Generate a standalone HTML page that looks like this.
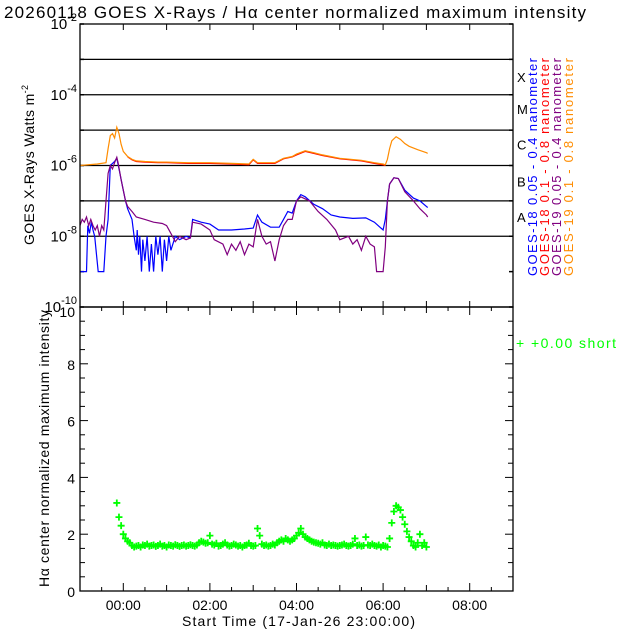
<!DOCTYPE html>
<html><head><meta charset="utf-8"><style>
html,body{margin:0;padding:0;background:#fff}
svg{display:block;font-family:"Liberation Sans",sans-serif}
</style></head><body>
<svg id="chart" width="640" height="640" viewBox="0 0 640 640">
<rect width="640" height="640" fill="#fff"/>
<text x="4" y="18" font-size="17" textLength="582" lengthAdjust="spacing" fill="#000">20260118 GOES X-Rays / Hα center normalized maximum intensity</text>
<g id="topPanel"></g>
<g id="botPanel"></g>
</svg>
<script>
// ---- data ----
const orangeT=[-1,-0.6,-0.4,-0.35,-0.3,-0.25,-0.2,-0.15,-0.1,-0.05,0,0.1,0.2,0.3,0.5,0.8,1.0,1.5,2.0,2.5,2.9,3.0,3.1,3.5,3.7,3.9,4.0,4.2,4.4,4.6,5.0,5.5,5.8,6.0,6.05,6.1,6.15,6.2,6.3,6.4,6.5,6.6,6.8,7.0,7.03];
const orangeV=[1.0e-6,1.1e-6,1.2e-6,3e-6,7e-6,8e-6,6e-6,1.2e-5,8e-6,4e-6,2.5e-6,1.8e-6,1.5e-6,1.35e-6,1.3e-6,1.25e-6,1.25e-6,1.2e-6,1.2e-6,1.15e-6,1.1e-6,1.5e-6,1.2e-6,1.2e-6,1.6e-6,1.8e-6,2.1e-6,2.6e-6,2.3e-6,2.0e-6,1.6e-6,1.4e-6,1.2e-6,1.1e-6,1.05e-6,1.5e-6,3e-6,5e-6,6.5e-6,5.5e-6,4.2e-6,3.5e-6,2.8e-6,2.3e-6,2.2e-6];
const redT=[0.1,0.2,0.3,0.5,0.8,1.0,1.5,2.0,2.5,2.9,3.0,3.1,3.5,3.7,3.9,4.0,4.2,4.4,4.6,5.0,5.5,5.8,6.0,6.05];
const redV=[1.75e-6,1.45e-6,1.3e-6,1.25e-6,1.2e-6,1.2e-6,1.15e-6,1.15e-6,1.1e-6,1.05e-6,1.45e-6,1.15e-6,1.15e-6,1.55e-6,1.75e-6,2.0e-6,2.5e-6,2.2e-6,1.9e-6,1.55e-6,1.35e-6,1.15e-6,1.05e-6,1.0e-6];
const blueT=[-1,-0.85,-0.82,-0.78,-0.74,-0.7,-0.66,-0.62,-0.58,-0.45,-0.4,-0.35,-0.3,-0.2,-0.15,-0.1,0,0.05,0.1,0.2,0.25,0.3,0.32,0.35,0.38,0.42,0.45,0.5,0.55,0.6,0.65,0.7,0.75,0.8,0.85,0.9,0.95,1.0,1.05,1.1,1.2,1.3,1.45,1.55,1.6,1.8,2.0,2.2,2.5,2.8,3.0,3.1,3.2,3.4,3.6,3.7,3.8,3.9,4.0,4.1,4.2,4.4,4.6,4.8,5.0,5.3,5.6,5.8,6.0,6.05,6.1,6.15,6.25,6.35,6.5,6.7,6.85,7.0,7.03];
const blueV=[1e-9,1e-9,2e-8,1.2e-8,2.5e-8,1.5e-8,1e-8,3e-9,1e-9,1e-9,1e-8,3e-8,1e-6,1.3e-6,1.6e-6,8e-7,2e-7,1e-7,6e-8,3e-8,1e-8,4e-9,1.5e-8,3e-9,1e-8,1e-9,8e-9,2e-9,1e-8,1e-9,6e-9,1e-9,1e-8,3e-9,1e-8,1e-9,8e-9,2e-9,1e-8,4e-9,1e-8,8e-9,1e-8,9e-9,3e-8,2.5e-8,2.2e-8,1.5e-8,1.5e-8,1.6e-8,1.7e-8,4e-8,2.5e-8,1.8e-8,1.8e-8,3e-8,5e-8,4.5e-8,1e-7,1.5e-7,1.3e-7,8e-8,6e-8,4e-8,3.5e-8,3.2e-8,3.3e-8,2.5e-8,1.5e-8,3e-8,1e-7,3e-7,4.5e-7,4.3e-7,2e-7,1.2e-7,1e-7,7e-8,6.5e-8];
const purpleT=[-1,-0.95,-0.9,-0.85,-0.8,-0.75,-0.7,-0.65,-0.6,-0.55,-0.5,-0.45,-0.4,-0.35,-0.3,-0.25,-0.2,-0.15,-0.12,-0.05,0,0.05,0.1,0.2,0.3,0.5,0.7,0.9,1.0,1.1,1.2,1.3,1.45,1.55,1.6,1.8,2.0,2.1,2.3,2.4,2.5,2.6,2.7,2.8,2.9,3.0,3.1,3.2,3.3,3.4,3.5,3.6,3.7,3.8,3.9,4.0,4.1,4.3,4.5,4.7,4.9,5.0,5.2,5.3,5.4,5.5,5.6,5.7,5.8,5.85,6.0,6.05,6.1,6.15,6.25,6.35,6.5,6.7,6.85,7.0,7.03];
const purpleV=[2e-8,3e-8,2.5e-8,3.5e-8,2e-8,3e-8,2e-8,1.5e-8,2e-8,1e-8,2e-8,1.5e-8,1e-7,6e-7,1e-6,8e-7,1.2e-6,1.7e-6,1.2e-6,4e-7,2e-7,1e-7,7e-8,5e-8,3.5e-8,3e-8,2.5e-8,2.3e-8,2e-8,1.2e-8,7e-9,1e-8,8e-9,9e-9,2.5e-8,2.2e-8,1.5e-8,8e-9,6e-9,3e-9,6e-9,4e-9,7e-9,3e-9,6e-9,5e-9,3e-8,1e-8,6e-9,7e-9,2e-9,8e-9,2e-8,3e-8,3e-8,1e-7,1.3e-7,1e-7,5e-8,3e-8,1.5e-8,8e-9,1e-8,6e-9,8e-9,4e-9,1e-8,6e-9,5e-9,1e-9,1e-9,5e-9,1e-7,3e-7,4.5e-7,4.3e-7,1.8e-7,1e-7,6e-8,4e-8,3.5e-8];
const haStart=-0.15, haStep=0.05;
const haV=[3.1,2.6,2.3,2.0,1.85,1.75,1.7,1.6,1.55,1.58,1.6,1.55,1.62,1.6,1.65,1.58,1.6,1.62,1.57,1.6,
1.65,1.58,1.6,1.55,1.62,1.6,1.58,1.63,1.6,1.57,1.6,1.62,1.58,1.6,1.63,1.6,1.58,1.62,1.7,1.75,
1.72,1.68,1.7,1.95,1.65,1.62,1.68,1.58,1.6,1.65,1.7,1.62,1.58,1.6,1.65,1.62,1.58,1.6,1.55,1.6,
1.62,1.68,1.6,1.58,1.6,2.2,1.95,1.65,1.6,1.62,1.58,1.6,1.65,1.62,1.7,1.75,1.8,1.75,1.85,1.8,
1.75,1.8,1.85,1.95,2.05,2.2,2.0,1.9,1.85,1.8,1.75,1.72,1.7,1.68,1.65,1.7,1.62,1.6,1.65,1.6,
1.62,1.6,1.58,1.6,1.62,1.65,1.6,1.58,1.6,1.65,1.85,1.6,1.62,1.58,1.6,1.9,1.62,1.6,1.65,1.6,
1.58,1.62,1.55,1.6,1.58,1.55,1.85,2.4,2.8,3.0,2.95,2.85,2.6,2.35,2.1,1.9,1.75,1.6,1.55,1.7,
2.0,1.6,1.7,1.55];
const xTickLabels=["00:00","02:00","04:00","06:00","08:00"];
const xTickHours=[0,2,4,6,8];
const yTopLabels=["-2","-4","-6","-8","-10"];
const yTopExp=[-2,-4,-6,-8,-10];
const yBotTicks=[0,2,4,6,8,10];
const classLetters=["X","M","C","B","A"];
const classExp=[-3.5,-4.4,-5.4,-6.45,-7.45];

// ---- scales ----
const L=80,R=513,TT=24,TB=307,BT=307,BB=591;
const x=h=>L+(h+1)/10*(R-L);
const yTop=v=>TT+(-2-Math.log10(v))/8*(TB-TT);
const yTopE=e=>TT+(-2-e)/8*(TB-TT);
const yBot=v=>BB-v/10*(BB-BT);
const NS="http://www.w3.org/2000/svg";
function mk(tag,attrs,parent){const e=document.createElementNS(NS,tag);for(const k in attrs)e.setAttribute(k,attrs[k]);parent.appendChild(e);return e;}
const topG=document.getElementById('topPanel'), botG=document.getElementById('botPanel');

for(let e=-3;e>=-8;e--){
  const l=mk('line',{x1:L,x2:R,y1:yTopE(e),y2:yTopE(e),stroke:'#000','stroke-width':1.3},topG);
  
  
}
for(let e=-2;e>=-10;e--){
  [[L,L+4],[R-4,R]].forEach(p=>{const t=mk('line',{x1:p[0],x2:p[1],y1:yTopE(e),y2:yTopE(e),stroke:'#000','stroke-width':1.5},topG);
  
  });
}
for(let h=0;h<=8;h++){
  [[TT,TT+6],[TB-6,TB]].forEach(p=>{const t=mk('line',{x1:x(h),x2:x(h),y1:p[0],y2:p[1],stroke:'#000','stroke-width':1},topG);
  
  });
}
yTopLabels.forEach((lab,i)=>{
  const y=yTopE(yTopExp[i]);
  const t=mk('text',{x:L-3,y:y+5,'font-size':15,'text-anchor':'end'},topG);
  
  
  t.innerHTML='10<tspan dy="-8" font-size="11">'+lab+'</tspan>';
});
classLetters.forEach((c,i)=>{
  const t=mk('text',{x:517,y:yTopE(classExp[i])+5,'font-size':13},topG);
  
  
  t.textContent=c;
});
{const t=mk('text',{transform:'translate(34,245) rotate(-90)','font-size':14,textLength:160,lengthAdjust:'spacing'},topG);
 
 
 t.innerHTML='GOES X-Rays Watts m<tspan dy="-6" font-size="9">-2</tspan>';}

function series(T,V,color,name){
  const d=T.map((t,i)=>(i?'L':'M')+x(t).toFixed(1)+','+yTop(V[i]).toFixed(1)).join('');
  const p=mk('path',{d:d,fill:'none',stroke:color,'stroke-width':1.2},topG);
  
  
}
series(blueT,blueV,'#0000ff','goes18-short-line');
series(purpleT,purpleV,'#800080','goes19-short-line');
series(redT,redV,'#ff0000','goes18-long-line');
series(orangeT,orangeV,'#ff8c00','goes19-long-line');

const legend=[["GOES-18 0.05 - 0.4 nanometer","#0000ff"],["GOES-18  0.1  - 0.8 nanometer","#ff0000"],["GOES-19 0.05 - 0.4 nanometer","#800080"],["GOES-19  0.1  - 0.8 nanometer","#ff8c00"]];
legend.forEach((l,i)=>{
  const t=mk('text',{transform:'translate('+(537+i*12)+',276) rotate(-90)','font-size':13,fill:l[1],textLength:218,lengthAdjust:'spacing'},topG);
  
  
  t.textContent=l[0];
});
{const f=mk('rect',{x:L,y:TT,width:R-L,height:TB-TT,fill:'none',stroke:'#000','stroke-width':1.3},topG);
 
 }

for(let v=0;v<=10;v+=0.5){
  const len=(v%2===0)?8:5;
  [[L,L+len],[R-len,R]].forEach(p=>{const t=mk('line',{x1:p[0],x2:p[1],y1:yBot(v),y2:yBot(v),stroke:'#000','stroke-width':1},botG);
  
  });
}
for(let h=-0.5;h<=8.5;h+=0.5){
  const len=(h%2===0)?8:(Number.isInteger(h)?6:4);
  [[BB-len,BB],[BT,BT+len]].forEach(p=>{const t=mk('line',{x1:x(h),x2:x(h),y1:p[0],y2:p[1],stroke:'#000','stroke-width':1},botG);
  
  });
}
yBotTicks.forEach(v=>{
  const t=mk('text',{x:L-5,y:yBot(v)+6+(v===10?4:0),'font-size':14,'text-anchor':'end'},botG);
  
  
  t.textContent=v;
});
xTickLabels.forEach((lab,i)=>{
  const t=mk('text',{x:x(xTickHours[i]),y:610,'font-size':14,'text-anchor':'middle'},botG);
  
  
  t.textContent=lab;
});
{const t=mk('text',{x:182,y:626,'font-size':14,textLength:233,lengthAdjust:'spacing'},botG);
 
 
 t.textContent='Start Time (17-Jan-26 23:00:00)';}
{const t=mk('text',{transform:'translate(49,587) rotate(-90)','font-size':14,textLength:277,lengthAdjust:'spacing'},botG);
 
 
 t.textContent='Hα center normalized maximum intensity';}
haV.forEach((v,i)=>{
  const cx=x(haStart+i*haStep), cy=yBot(v);
  const p=mk('path',{d:`M${cx-3.5},${cy}H${cx+3.5}M${cx},${cy-3.5}V${cy+3.5}`,stroke:'#00ff00','stroke-width':1.8},botG);
  
  
});
{const t=mk('text',{x:516,y:348,'font-size':14,fill:'#00ff00',textLength:100,lengthAdjust:'spacing'},botG);
 
 
 t.textContent='+  +0.00 short';}
{const f=mk('rect',{x:L,y:BT,width:R-L,height:BB-BT,fill:'none',stroke:'#000','stroke-width':1.3},botG);
 
 }
</script>
</body></html>
